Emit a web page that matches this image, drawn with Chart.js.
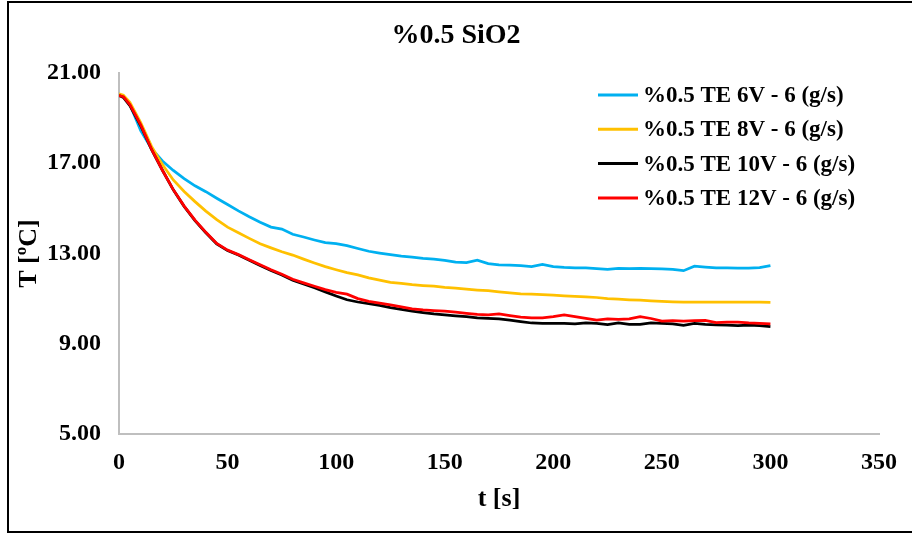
<!DOCTYPE html>
<html>
<head>
<meta charset="utf-8">
<script src="https://cdn.jsdelivr.net/npm/chart.js@4"></script>
<style>
  body { margin: 0; background: #fff; }
  #wrap { position: relative; width: 912px; height: 533px; overflow: hidden; }
  #frame { position: absolute; left: 7px; top: 1px; width: 1000px; height: 532px;
           box-sizing: border-box; border: 2px solid #000; pointer-events: none; }
</style>
</head>
<body>
<div id="wrap">
  <canvas id="chart" width="912" height="533"></canvas>
  <div id="frame"></div>
</div>
<script>
// time axis (s)
const times = [0, 2, 5, 10, 15, 20, 25, 30, 35, 40, 45, 50, 55, 60, 65, 70, 75, 80, 85, 90,
  95, 100, 105, 110, 115, 120, 125, 130, 135, 140, 145, 150, 155, 160, 165, 170, 175, 180,
  185, 190, 195, 200, 205, 210, 215, 220, 225, 230, 235, 240, 245, 250, 255, 260, 265, 270,
  275, 280, 285, 290, 295, 300];

// temperatures (°C)
const te6V = [20.02, 19.98, 19.6, 18.45, 17.65, 17.1, 16.68, 16.32, 16.0, 15.74, 15.45, 15.17,
  14.89, 14.63, 14.39, 14.17, 14.08, 13.85, 13.73, 13.6, 13.48, 13.44, 13.35, 13.22, 13.1,
  13.02, 12.95, 12.88, 12.84, 12.78, 12.75, 12.7, 12.62, 12.6, 12.7, 12.55, 12.5, 12.48,
  12.46, 12.42, 12.52, 12.42, 12.38, 12.36, 12.36, 12.33, 12.3, 12.34, 12.33, 12.34, 12.33,
  12.32, 12.3, 12.24, 12.44, 12.4, 12.36, 12.36, 12.35, 12.35, 12.37, 12.46];
const te8V = [20.08, 20.02, 19.7, 18.8, 17.75, 16.94, 16.26, 15.75, 15.3, 14.88, 14.5, 14.17,
  13.92, 13.67, 13.43, 13.25, 13.08, 12.93, 12.75, 12.58, 12.42, 12.28, 12.15, 12.05, 11.92,
  11.82, 11.72, 11.68, 11.62, 11.58, 11.55, 11.5, 11.47, 11.42, 11.38, 11.35, 11.3, 11.25,
  11.21, 11.2, 11.18, 11.15, 11.12, 11.1, 11.08, 11.05, 11.0, 10.98, 10.95, 10.93, 10.9,
  10.88, 10.86, 10.84, 10.84, 10.84, 10.85, 10.84, 10.84, 10.84, 10.84, 10.83];
const te10V = [20.0, 19.92, 19.55, 18.66, 17.6, 16.69, 15.82, 15.09, 14.46, 13.92, 13.43, 13.13,
  12.93, 12.7, 12.47, 12.25, 12.05, 11.82, 11.65, 11.48, 11.3, 11.12, 10.95, 10.85, 10.78,
  10.7, 10.6, 10.52, 10.45, 10.38, 10.32, 10.28, 10.24, 10.2, 10.15, 10.12, 10.1, 10.05,
  9.98, 9.92, 9.9, 9.9, 9.9, 9.88, 9.92, 9.9, 9.85, 9.92, 9.86, 9.86, 9.92,
  9.9, 9.88, 9.82, 9.9, 9.86, 9.84, 9.82, 9.8, 9.82, 9.8, 9.76];
const te12V = [20.0, 19.95, 19.6, 18.7, 17.62, 16.69, 15.83, 15.1, 14.48, 13.94, 13.45, 13.15,
  12.95, 12.72, 12.5, 12.28, 12.08, 11.86, 11.7, 11.55, 11.4, 11.28, 11.2, 11.0, 10.88,
  10.8, 10.72, 10.63, 10.55, 10.5, 10.47, 10.45, 10.4, 10.35, 10.3, 10.28, 10.32, 10.25,
  10.18, 10.15, 10.15, 10.2, 10.28, 10.2, 10.12, 10.05, 10.1, 10.08, 10.1, 10.2, 10.12,
  10.0, 10.02, 10.0, 10.02, 10.04, 9.94, 9.96, 9.96, 9.92, 9.9, 9.88];

const chartTitle = "%0.5 SiO2";
const seriesNames = ["%0.5 TE 6V - 6 (g/s)", "%0.5 TE 8V - 6 (g/s)",
  "%0.5 TE 10V - 6 (g/s)", "%0.5 TE 12V - 6 (g/s)"];
const seriesColors = ["#00B0F0", "#FFC000", "#000000", "#FF0000"];
const seriesValues = [te6V, te8V, te10V, te12V];

const serif = "'Liberation Serif', 'Times New Roman', serif";

function toPoints(vals) {
  return times.map((t, i) => ({ x: t, y: vals[i] }));
}

const datasets = seriesValues.map((vals, i) => ({
  label: seriesNames[i],
  data: toPoints(vals),
  borderColor: seriesColors[i],
  backgroundColor: seriesColors[i],
  borderWidth: 2.75,
  pointRadius: 0,
  tension: 0,
  order: 3 - i // later series drawn on top, like the original
}));

// title centred on the whole picture, legend inside the plot area top right
const decorations = {
  id: "decorations",
  afterDatasetsDraw(chart) {
    const ctx = chart.ctx;
    ctx.save();
    ctx.fillStyle = "#000";
    ctx.textBaseline = "middle";
    ctx.textAlign = "center";
    ctx.font = "bold 28px " + serif;
    ctx.fillText(chartTitle, 456, 36);

    ctx.textAlign = "left";
    ctx.font = "bold 23px " + serif;
    chart.data.datasets.forEach((ds, i) => {
      const y = 95 + i * 34.3;
      ctx.strokeStyle = ds.borderColor;
      ctx.lineWidth = 3;
      ctx.beginPath();
      ctx.moveTo(598, y);
      ctx.lineTo(638, y);
      ctx.stroke();
      ctx.fillText(ds.label, 643, y + 1);
    });
    ctx.restore();
  }
};

const chart = new Chart(document.getElementById("chart"), {
  type: "line",
  data: { datasets: datasets },
  plugins: [decorations],
  options: {
    responsive: false,
    animation: false,
    layout: { padding: { left: 10, right: 33, top: 73, bottom: 4 } },
    plugins: {
      legend: { display: false },
      tooltip: { enabled: false },
      title: { display: false }
    },
    scales: {
      x: {
        type: "linear",
        min: 0,
        max: 350,
        grid: { display: false, drawTicks: false },
        border: { color: "#bfbfbf", width: 2 },
        ticks: {
          stepSize: 50,
          color: "#000",
          padding: 14,
          maxRotation: 0,
          font: { family: serif, size: 24, weight: "bold" }
        },
        title: {
          display: true,
          text: "t [s]",
          color: "#000",
          font: { family: serif, size: 26, weight: "bold" },
          padding: { top: 0, bottom: 14 }
        },
        afterFit(scale) { scale.height = 533 - 434 - 4; }
      },
      y: {
        min: 5,
        max: 21,
        grid: { display: false, drawTicks: false },
        border: { color: "#bfbfbf", width: 2 },
        ticks: {
          stepSize: 4,
          color: "#000",
          padding: 18,
          font: { family: serif, size: 24, weight: "bold" },
          callback: v => v.toFixed(2)
        },
        title: {
          display: true,
          text: "T [ºC]",
          color: "#000",
          font: { family: serif, size: 26, weight: "bold" },
          padding: { top: 4, bottom: 0 }
        },
        afterFit(scale) { scale.width = 119 - 10; }
      }
    }
  }
});
</script>
</body>
</html>
